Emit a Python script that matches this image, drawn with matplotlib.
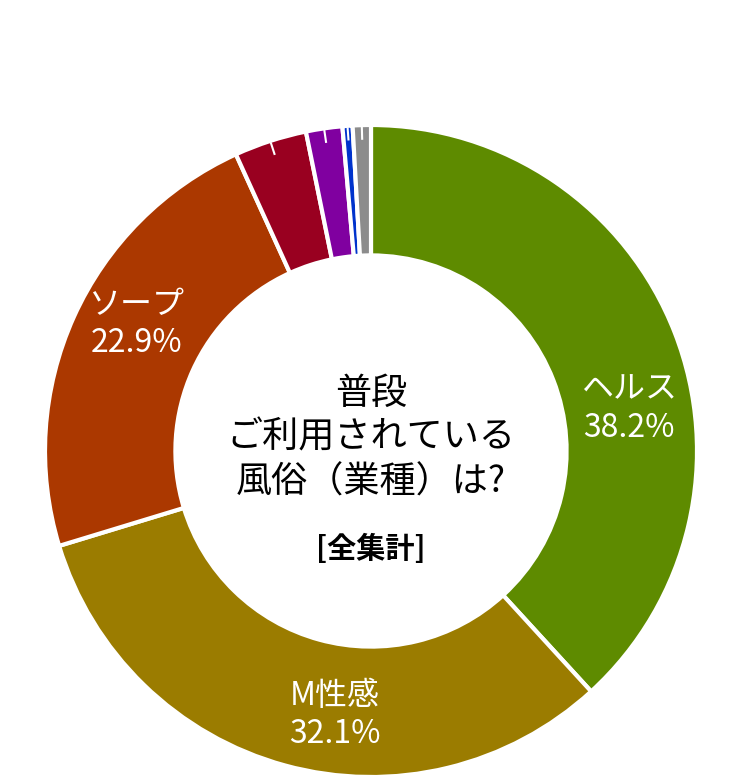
import numpy as np
import matplotlib
matplotlib.use('Agg')
import matplotlib.pyplot as plt

plt.rcParams['font.family'] = ['Noto Sans CJK JP', 'DejaVu Sans']

# data
labels = ['ヘルス', 'M性感', 'ソープ', '', '', '', '']
values = [38.2, 32.1, 22.9, 3.6, 1.8, 0.5, 0.9]
colors = ['#5e8b00', '#9b7c00', '#ab3800', '#990020', '#8000a0', '#0033cc', '#8c8c8c']
# label block centres (data units, radius = 1)
label_pos = [(0.79, 0.13), (-0.11, -0.81), (-0.72, 0.39)]

fig = plt.figure(figsize=(7.5, 7.82), dpi=100)
cx, cy, R = 371, 782 - 451, 326  # pixels
ax = fig.add_axes([(cx - R) / 750, (cy - R) / 782, 2 * R / 750, 2 * R / 782])

wedges, _ = ax.pie(values, colors=colors, startangle=90, counterclock=False,
                   radius=1.0,
                   wedgeprops=dict(width=0.4, edgecolor='white', linewidth=3))

# little white leader stubs on the small slices
frac = np.cumsum(values) / np.sum(values)
start = np.concatenate([[0], frac[:-1]])
for i in range(3, len(values)):
    th = np.deg2rad(90 - 360 * (start[i] + frac[i]) / 2)
    ax.plot([0.955 * np.cos(th), 0.995 * np.cos(th)],
            [0.955 * np.sin(th), 0.995 * np.sin(th)],
            color='white', lw=1.5, solid_capstyle='butt')

for i, (x, y) in enumerate(label_pos):
    ax.text(x, y, labels[i] + '\n' + '%.1f%%' % values[i], color='white',
            fontsize=23, ha='center', va='center', linespacing=1.25)

ax.text(0, 0.04, '普段\nご利用されている\n風俗（業種）は?', fontsize=26,
        ha='center', va='center', color='black', linespacing=1.3)
ax.text(0, -0.30, '[全集計]', fontsize=21, fontweight='bold',
        ha='center', va='center', color='black')

ax.set_xlim(-1, 1)
ax.set_ylim(-1, 1)
ax.set_aspect('equal')
ax.axis('off')

plt.savefig('out.png', dpi=100)
